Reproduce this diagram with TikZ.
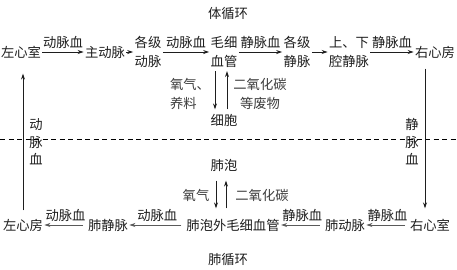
\documentclass[tikz,border=0pt]{standalone}
\usepackage{fontspec}
\setmainfont{Noto Sans CJK SC}
\usetikzlibrary{arrows.meta}
\definecolor{flowline}{HTML}{1E1E1E}
\definecolor{lungline}{HTML}{5A5A5A}
\definecolor{notetext}{HTML}{3C3C3C}

\begin{document}
\begin{tikzpicture}[x=1pt,y=-1pt,font=\fontsize{13.3}{19}\selectfont,
  every node/.style={inner sep=0pt,outer sep=0pt,text=flowline},
  organ/.style={align=center},
  stack/.style={align=center,font=\fontsize{13.3}{17.5}\selectfont},
  flow/.style={flowline,line width=0.8pt,shorten >=1.5pt,shorten <=1.5pt,-{Stealth[length=6pt,width=4pt]}},
  lungflow/.style={flow,lungline,shorten <=5pt},
  tag/.style={anchor=south,yshift=3pt},
  note/.style={text=notetext}]
\useasboundingbox (0,0) rectangle (457,269);
% titles
\node (txh) at (228,13) {体循环};
\node (fxh) at (228,259) {肺循环};
% systemic row
\node (lsh) at (21,52) {左心室};
\node (zdm) at (105,52) {主动脉};
\node[organ] (gjdm) at (148,52) {各级\\动脉};
\node[organ] (mxxg) at (224,52) {毛细\\血管};
\node[organ] (gjjm) at (297,52) {各级\\静脉};
\node[organ] (sxqjm) at (349,52) {上、下\\腔静脉};
\node (yxf) at (435,52) {右心房};
\draw[flow] (lsh) -- (zdm) node[tag,midway] {动脉血};
\draw[flow] (zdm) -- (gjdm);
\draw[flow] (gjdm) -- (mxxg) node[tag,midway] {动脉血};
\draw[flow] (mxxg) -- (gjjm) node[tag,midway] {静脉血};
\draw[flow] (gjjm) -- (sxqjm);
\draw[flow] (sxqjm) -- (yxf) node[tag,midway] {静脉血};
% exchange at the cells
\node (xb) at (224,120) {细胞};
\node[note,anchor=west,align=left] (yqyl) at (170,94) {氧气、\\养料};
\node[note,organ] (eyht) at (260,94) {二氧化碳\\等废物};
\draw[flow] ([xshift=-9pt,yshift=-2pt]mxxg.south) -- ([xshift=-9pt,yshift=3pt]xb.north);
\draw[flow] ([xshift=3pt,yshift=3pt]xb.north) -- ([xshift=3pt,yshift=-2pt]mxxg.south);
% side links
\node[stack] (dmx) at (36,142) {动\\脉\\血};
\node[stack] (jmx) at (412,142) {静\\脉\\血};
\draw[dashed,line width=0.7pt,dash pattern=on 5pt off 3.5pt] (0,139) -- (457,139);
% pulmonary row
\node (lxf) at (23,225) {左心房};
\node (fjm) at (108,225) {肺静脉};
\node (fpw) at (233,225) {肺泡外毛细血管};
\node (fdm) at (345,225) {肺动脉};
\node (yxs) at (430,225) {右心室};
\draw[flow] ([xshift=-10pt,yshift=-9pt]yxf.south) -- ([xshift=-5pt,yshift=9pt]yxs.north);
\draw[flow] ([yshift=7pt]lxf.north) -- ([xshift=2pt,yshift=-14pt]lsh.south);
\draw[lungflow] (yxs) -- (fdm) node[tag,midway] {静脉血};
\draw[lungflow] (fdm) -- (fpw) node[tag,midway] {静脉血};
\draw[lungflow] (fpw) -- (fjm) node[tag,midway] {动脉血};
\draw[lungflow] (fjm) -- (lxf) node[tag,midway] {动脉血};
% exchange at the alveoli
\node (fp) at (224,165) {肺泡};
\node[note] (yq) at (196,195) {氧气};
\node[note] (eyht2) at (262,195) {二氧化碳};
\draw[flow] ([xshift=-8pt,yshift=-8pt]fp.south) -- ([xshift=-17pt,yshift=9pt]fpw.north);
\draw[flow] ([xshift=-7pt,yshift=9pt]fpw.north) -- ([xshift=2pt,yshift=-8pt]fp.south);
\end{tikzpicture}
\end{document}
